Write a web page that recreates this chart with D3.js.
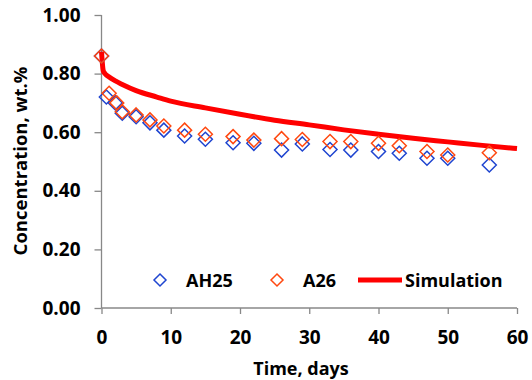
<!DOCTYPE html>
<html>
<head>
<meta charset="utf-8">
<script src="https://cdn.jsdelivr.net/npm/d3@7"></script>
<style>
  body { margin: 0; background: #fff; }
  text { font-family: "Open Sans", sans-serif; font-weight: bold; fill: #000; }
</style>
</head>
<body>
<svg id="chart" width="532" height="380"></svg>
<script>
// data
const ah25Days = [0, 0.7, 2, 3, 5, 7, 9, 12, 15, 19, 22, 26, 29, 33, 36, 40, 43, 47, 50, 56];
const ah25Conc = [0.86, 0.72, 0.70, 0.665, 0.653, 0.632, 0.607, 0.587, 0.576, 0.564, 0.562, 0.539, 0.56, 0.541, 0.539, 0.534, 0.528, 0.511, 0.511, 0.488];
const a26Days = [0, 1.1, 2.2, 3, 5, 7, 9, 12, 15, 19, 22, 26, 29, 33, 36, 40, 43, 47, 50, 56];
const a26Conc = [0.86, 0.733, 0.70, 0.67, 0.659, 0.642, 0.621, 0.607, 0.593, 0.585, 0.573, 0.578, 0.575, 0.568, 0.568, 0.562, 0.554, 0.534, 0.522, 0.53];
const simDays = [0, 0.25, 0.5, 1, 2, 3, 5, 8, 10, 15, 20, 25, 30, 35, 40, 45, 50, 55, 60];
const simConc = [0.875, 0.81, 0.80, 0.79, 0.775, 0.763, 0.742, 0.72, 0.706, 0.683, 0.661, 0.641, 0.625, 0.608, 0.593, 0.579, 0.567, 0.555, 0.544];
const xTicks = [0, 10, 20, 30, 40, 50, 60];
const yTicks = [0, 0.2, 0.4, 0.6, 0.8, 1.0];

const svg = d3.select("#chart");
const x = d3.scaleLinear().domain([0, 60]).range([101.5, 517]);
const y = d3.scaleLinear().domain([0, 1]).range([308, 15]);
const axisColor = "#888";

// axes
const gx = svg.append("g").attr("transform", "translate(0," + y(0) + ")")
  .call(d3.axisBottom(x).tickValues(xTicks).tickSize(6).tickPadding(17).tickFormat(d3.format("d")));
const gy = svg.append("g").attr("transform", "translate(" + x(0) + ",0)")
  .call(d3.axisLeft(y).tickValues(yTicks).tickSize(7).tickPadding(14).tickFormat(d3.format(".2f")));
[gx, gy].forEach(g => {
  g.select(".domain").attr("stroke", axisColor).attr("stroke-width", 1.3);
  g.selectAll(".tick line").attr("stroke", axisColor).attr("stroke-width", 1.3);
  g.selectAll(".tick text").style("font-size", "19px").attr("fill", "#000");
});
gy.select(".domain").attr("d", "M0," + y(1) + "V" + y(0));
gx.select(".domain").attr("d", "M" + x(0) + ",0H" + x(60));

// simulation line
const line = d3.line().x((d, i) => x(simDays[i])).y(d => y(d)).curve(d3.curveMonotoneX);
svg.append("path")
  .datum(simConc)
  .attr("d", line)
  .attr("fill", "none")
  .attr("stroke", "#ff0000")
  .attr("stroke-width", 5);

// diamond markers
function diamond(cx, cy, r) {
  return "M" + cx + "," + (cy - r) + "L" + (cx + r) + "," + cy + "L" + cx + "," + (cy + r) + "L" + (cx - r) + "," + cy + "Z";
}
const blue = "#1f45d0", orange = "#ff4810";

svg.append("g").selectAll("path")
  .data(ah25Conc)
  .enter().append("path")
  .attr("d", (d, i) => diamond(x(ah25Days[i]), y(d), 7))
  .attr("fill", "none")
  .attr("stroke", blue)
  .attr("stroke-width", 1.5);

svg.append("g").selectAll("path")
  .data(a26Conc)
  .enter().append("path")
  .attr("d", (d, i) => diamond(x(a26Days[i]), y(d), 7))
  .attr("fill", "none")
  .attr("stroke", orange)
  .attr("stroke-width", 1.5);

// legend
const leg = svg.append("g").attr("transform", "translate(0,280)");
leg.append("path").attr("d", diamond(160, 0, 6)).attr("fill", "none").attr("stroke", blue).attr("stroke-width", 1.5);
leg.append("text").attr("x", 186).attr("y", 6.5).style("font-size", "18px").text("AH25");
leg.append("path").attr("d", diamond(277, 0, 6)).attr("fill", "none").attr("stroke", orange).attr("stroke-width", 1.5);
leg.append("text").attr("x", 303).attr("y", 6.5).style("font-size", "18px").text("A26");
leg.append("line").attr("x1", 358).attr("x2", 402).attr("y1", 0).attr("y2", 0).attr("stroke", "#ff0000").attr("stroke-width", 5);
leg.append("text").attr("x", 405).attr("y", 6.5).style("font-size", "18px").text("Simulation");

// axis titles
svg.append("text")
  .attr("x", 301).attr("y", 375)
  .style("text-anchor", "middle").style("font-size", "18px")
  .text("Time, days");
svg.append("text")
  .attr("transform", "translate(27," + 161 + ") rotate(-90)")
  .style("text-anchor", "middle").style("font-size", "18.5px")
  .text("Concentration, wt.%");
</script>
</body>
</html>
